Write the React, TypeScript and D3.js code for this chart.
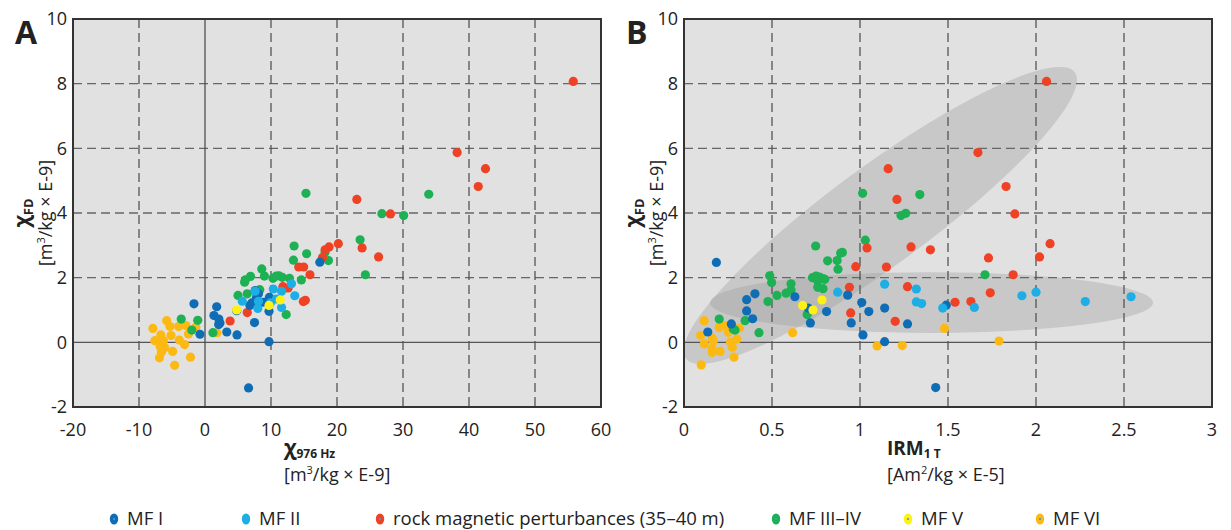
import React from "react";
import * as d3 from "d3";

// ---------- data ----------
// Panel A: chi976Hz (x) vs chiFD (y)
const mf1A: [number, number][] = [
  [-1.67, 1.19], [-0.76, 0.25], [1.77, 1.1], [1.36, 0.83], [2.1, 0.72], [2.27, 0.6], [2.07, 0.55],
  [3.3, 0.32], [4.85, 0.23], [4.8, 0.98], [6.8, 1.14], [7.1, 1.22], [7.5, 0.61], [7.8, 1.39],
  [8.1, 1.5], [8.8, 1.24], [9.7, 0.96], [9.75, 1.39], [9.7, 0.02], [6.6, -1.41], [17.4, 2.48], [7.6, 1.6],
];
const mf2A: [number, number][] = [
  [7.6, 1.58], [5.65, 1.27], [8.1, 1.27], [8.0, 1.05], [10.35, 1.65], [11.6, 1.58], [13.1, 1.81],
  [13.6, 1.44], [11.6, 1.08], [10.8, 1.34], [9.9, 1.22],
];
const redA: [number, number][] = [
  [55.8, 8.07], [38.2, 5.87], [42.5, 5.37], [41.4, 4.82], [23.0, 4.42], [28.1, 3.97], [20.2, 3.05],
  [23.8, 2.92], [26.3, 2.64], [18.8, 2.95], [18.2, 2.86], [17.8, 2.62], [15.9, 2.09], [14.2, 2.33],
  [14.95, 2.33], [14.9, 1.26], [15.2, 1.3], [3.8, 0.66], [6.4, 0.92], [12.6, 1.68], [11.8, 1.72],
];
const greenA: [number, number][] = [
  [15.3, 4.61], [33.9, 4.58], [26.8, 3.98], [30.1, 3.92], [23.5, 3.17], [13.5, 2.98], [15.4, 2.74],
  [18.2, 2.79], [18.7, 2.53], [13.4, 2.54], [24.3, 2.09], [14.6, 1.93], [8.6, 2.27], [9.0, 2.05],
  [6.9, 2.04], [6.0, 1.86], [6.1, 1.93], [10.3, 1.98], [11.2, 2.06], [11.7, 2.01], [12.8, 1.98],
  [8.3, 1.63], [6.4, 1.5], [5.0, 1.45], [12.3, 0.86], [12.1, 1.68], [-3.6, 0.72], [-1.1, 0.68],
  [-2.0, 0.38], [1.2, 0.3], [10.8, 2.05],
];
const mf5A: [number, number][] = [[4.8, 1.0], [9.7, 1.14], [11.4, 1.31]];
const mf6A: [number, number][] = [
  [-7.9, 0.43], [-5.8, 0.67], [-5.3, 0.49], [-4.0, 0.49], [-2.9, 0.52], [-2.5, 0.26], [-6.7, 0.23],
  [-5.15, 0.21], [-7.6, 0.05], [-6.3, 0.05], [-3.9, 0.07], [-3.1, -0.07], [-6.8, -0.13], [-6.1, -0.17],
  [-4.9, -0.28], [-6.6, -0.31], [-6.9, -0.48], [-2.2, -0.46], [-4.6, -0.71], [1.8, 0.3], [-1.4, 0.47],
];

// Panel B: IRM 1T (x) vs chiFD (y)
const mf1B: [number, number][] = [
  [0.184, 2.47], [0.269, 0.57], [0.135, 0.32], [0.356, 1.32], [0.403, 1.5], [0.356, 0.97], [0.39, 0.73],
  [0.63, 1.41], [0.706, 1.06], [0.718, 0.6], [0.81, 0.95], [0.93, 1.46], [0.95, 0.6], [1.01, 1.23],
  [1.05, 0.95], [1.017, 0.23], [1.14, 1.06], [1.14, 0.02], [1.27, 0.57], [1.43, -1.4], [1.49, 1.15],
];
const mf2B: [number, number][] = [
  [0.873, 1.55], [1.14, 1.8], [1.32, 1.65], [1.32, 1.25], [1.35, 1.2], [1.47, 1.06], [1.65, 1.08],
  [1.92, 1.44], [2.0, 1.55], [2.28, 1.26], [2.54, 1.41],
];
const redB: [number, number][] = [
  [2.06, 8.07], [1.67, 5.87], [1.16, 5.37], [1.83, 4.82], [1.21, 4.42], [1.88, 3.97], [2.08, 3.05],
  [1.04, 2.92], [1.29, 2.95], [1.4, 2.86], [1.73, 2.61], [2.02, 2.64], [0.976, 2.34], [1.15, 2.33],
  [1.87, 2.09], [0.94, 1.7], [1.27, 1.72], [1.74, 1.53], [1.54, 1.24], [1.63, 1.26], [0.947, 0.91], [1.2, 0.65],
];
const greenB: [number, number][] = [
  [1.015, 4.61], [1.34, 4.57], [1.233, 3.92], [1.26, 3.99], [1.03, 3.16], [0.748, 2.98], [0.89, 2.76],
  [0.9, 2.78], [0.816, 2.52], [0.87, 2.53], [0.875, 2.26], [1.71, 2.09], [0.487, 2.06], [0.498, 1.85],
  [0.608, 1.81], [0.608, 1.62], [0.58, 1.52], [0.528, 1.45], [0.477, 1.26], [0.73, 2.0], [0.75, 2.05],
  [0.77, 2.02], [0.79, 1.97], [0.76, 1.9], [0.8, 1.95], [0.76, 1.7], [0.79, 1.66], [0.7, 0.86],
  [0.2, 0.72], [0.347, 0.67], [0.28, 0.41], [0.29, 0.38], [0.426, 0.3],
];
const mf5B: [number, number][] = [[0.674, 1.14], [0.733, 1.0], [0.784, 1.31]];
const mf6B: [number, number][] = [
  [0.115, 0.67], [0.095, 0.21], [0.115, -0.05], [0.16, 0.13], [0.167, 0.04], [0.16, -0.2], [0.16, -0.31],
  [0.205, -0.28], [0.098, -0.7], [0.2, 0.46], [0.233, 0.52], [0.252, 0.31], [0.265, 0.0], [0.275, -0.15],
  [0.284, -0.46], [0.3, 0.1], [0.314, 0.44], [0.617, 0.3], [1.097, -0.11], [1.24, -0.1], [1.48, 0.43], [1.79, 0.04],
];

// Ellipses in panel B: major-axis endpoints (data) and minor/major ratio
const ellipsesB = [
  { x1: 0.01, y1: -0.5, x2: 2.22, y2: 8.35, ratio: 0.205 },
  { x1: 0.148, y1: 1.23, x2: 2.665, y2: 1.23, ratio: 0.137 },
];

const yTicks = [-2, 0, 2, 4, 6, 8, 10];
const xTicksA = [-20, -10, 0, 10, 20, 30, 40, 50, 60];
const xTicksB = [0, 0.5, 1, 1.5, 2, 2.5, 3];

const groups = [
  { key: "mf6", label: "MF VI", color: "#fdb913" },
  { key: "green", label: "MF III\u2013IV", color: "#1db154" },
  { key: "red", label: "rock magnetic perturbances (35\u201340 m)", color: "#ef4123" },
  { key: "mf1", label: "MF I", color: "#0f6db6" },
  { key: "mf2", label: "MF II", color: "#1eaee6" },
  { key: "mf5", label: "MF V", color: "#fff212" },
];
const legendOrder = ["mf1", "mf2", "red", "green", "mf5", "mf6"];

const dataA: Record<string, [number, number][]> = { mf1: mf1A, mf2: mf2A, red: redA, green: greenA, mf5: mf5A, mf6: mf6A };
const dataB: Record<string, [number, number][]> = { mf1: mf1B, mf2: mf2B, red: redB, green: greenB, mf5: mf5B, mf6: mf6B };

const FONT = "'Open Sans', 'Noto Sans', sans-serif";
const TOP = 19, BOTTOM = 407, PW = 528;

function Panel({ left, domain, xTicks, data, letter, zeroV, ellipses, id }: any) {
  const x = d3.scaleLinear().domain(domain).range([left, left + PW]);
  const y = d3.scaleLinear().domain([-2, 10]).range([BOTTOM, TOP]);
  const dash = "9,5";
  return (
    <g>
      <defs>
        <clipPath id={id}>
          <rect x={left} y={TOP} width={PW} height={BOTTOM - TOP} />
        </clipPath>
      </defs>
      <rect x={left} y={TOP} width={PW} height={BOTTOM - TOP} fill="#e1e1e1" />
      <g clipPath={`url(#${id})`}>
        {(ellipses || []).map((e: any, i: number) => {
          const px1 = x(e.x1), py1 = y(e.y1), px2 = x(e.x2), py2 = y(e.y2);
          const cx = (px1 + px2) / 2, cy = (py1 + py2) / 2;
          const a = Math.hypot(px2 - px1, py2 - py1) / 2;
          const ang = (Math.atan2(py2 - py1, px2 - px1) * 180) / Math.PI;
          return (
            <ellipse key={i} cx={cx} cy={cy} rx={a} ry={a * e.ratio}
              transform={`rotate(${ang},${cx},${cy})`} fill="#9a9a9a" fillOpacity={0.36} />
          );
        })}
      </g>
      {yTicks.filter((t) => t !== -2 && t !== 10).map((t) => (
        <line key={"h" + t} x1={left} x2={left + PW} y1={y(t)} y2={y(t)}
          stroke={t === 0 ? "#555" : "#666"} strokeWidth={t === 0 ? 1.2 : 1.3}
          strokeDasharray={t === 0 ? undefined : dash} />
      ))}
      {xTicks.slice(1, -1).map((t: number) => (
        <line key={"v" + t} x1={x(t)} x2={x(t)} y1={TOP} y2={BOTTOM}
          stroke={t === 0 && zeroV ? "#444" : "#555"} strokeWidth={t === 0 && zeroV ? 1.2 : 1.3}
          strokeDasharray={t === 0 && zeroV ? undefined : dash} />
      ))}
      {groups.map((g) => (
        <g key={g.key}>
          {data[g.key].map((d: [number, number], i: number) => (
            <circle key={i} cx={x(d[0])} cy={y(d[1])} r={4.6} fill={g.color} />
          ))}
        </g>
      ))}
      <rect x={left} y={TOP} width={PW} height={BOTTOM - TOP} fill="none" stroke="#333" strokeWidth={2} />
      {yTicks.map((t) => (
        <text key={"yl" + t} x={left - 6} y={y(t)} dy="0.36em" textAnchor="end"
          fontFamily={FONT} fontSize={18} fill="#222">{t}</text>
      ))}
      {xTicks.map((t: number) => (
        <text key={"xl" + t} x={x(t)} y={436} textAnchor="middle"
          fontFamily={FONT} fontSize={18} fill="#222">{String(t)}</text>
      ))}
      <text x={left - 58} y={44} fontFamily={FONT} fontSize={32} fontWeight="bold" fill="#222">{letter}</text>
      <text transform={`translate(${left - 44},${(TOP + BOTTOM) / 2}) rotate(-90)`} textAnchor="middle"
        fontFamily={FONT} fill="#222">
        <tspan fontSize={21} fontWeight="bold">χ</tspan>
        <tspan fontSize={13} fontWeight="bold" dy={4}>FD</tspan>
      </text>
      <text transform={`translate(${left - 21},${(TOP + BOTTOM) / 2}) rotate(-90)`} textAnchor="middle"
        fontFamily={FONT} fontSize={18} fill="#222">
        [m<tspan fontSize={11} dy={-7}>3</tspan><tspan dy={7}>/kg × E-9]</tspan>
      </text>
    </g>
  );
}

export default function App() {
  const leg = legendOrder.map((k) => groups.find((g) => g.key === k)!);
  const legX = [114, 246, 380, 776, 908, 1040];
  return (
    <svg width={1231} height={530} style={{ position: "absolute", left: 0, top: 0, background: "#fff" }}>
      <Panel id="clipA" left={73} domain={[-20, 60]} xTicks={xTicksA} data={dataA} letter="A" zeroV={true} />
      <Panel id="clipB" left={684} domain={[0, 3]} xTicks={xTicksB} data={dataB} letter="B" zeroV={false} ellipses={ellipsesB} />
      {/* x axis titles */}
      <text x={284} y={455} fontFamily={FONT} fill="#222">
        <tspan fontSize={21} fontWeight="bold">χ</tspan>
        <tspan fontSize={12} fontWeight="bold" dy={3}>976 Hz</tspan>
      </text>
      <text x={284} y={481} fontFamily={FONT} fontSize={18} fill="#222">
        [m<tspan fontSize={11} dy={-7}>3</tspan><tspan dy={7}>/kg × E-9]</tspan>
      </text>
      <text x={887} y={455} fontFamily={FONT} fill="#222">
        <tspan fontSize={19} fontWeight="bold">IRM</tspan>
        <tspan fontSize={12} fontWeight="bold" dy={3}>1 T</tspan>
      </text>
      <text x={887} y={481} fontFamily={FONT} fontSize={18} fill="#222">
        [Am<tspan fontSize={11} dy={-7}>2</tspan><tspan dy={7}>/kg × E-5]</tspan>
      </text>
      {/* legend */}
      {leg.map((g, i) => (
        <g key={g.key}>
          <ellipse cx={legX[i]} cy={519} rx={4.2} ry={5.6} fill={g.color} />
          <circle cx={legX[i]} cy={519} r={1.1} fill="#3aa0d8" />
          <text x={legX[i] + 13} y={519} dy="0.35em" fontFamily={FONT} fontSize={18.5} fill="#222">{g.label}</text>
        </g>
      ))}
    </svg>
  );
}
